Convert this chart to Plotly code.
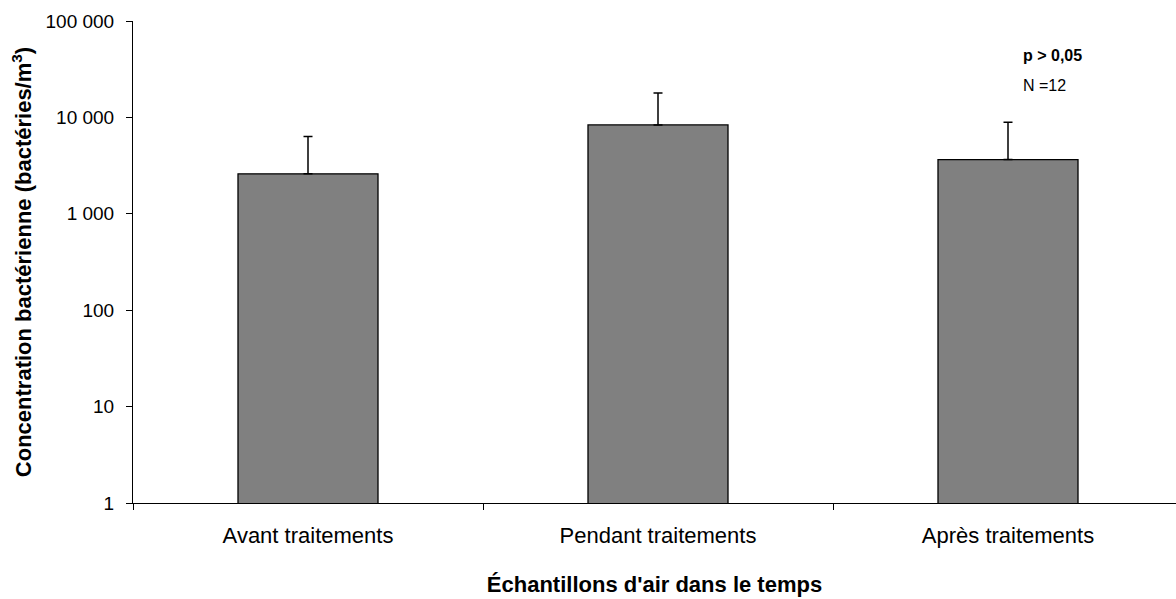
import plotly.graph_objects as go

# Air samples over time: mean bacterial concentration with upper error
categories = ["Avant traitements", "Pendant traitements", "Après traitements"]
mean_conc = [2600, 8350, 3650]
err_plus = [3750, 9600, 5250]

y_tickvals = [1, 10, 100, 1000, 10000, 100000]
y_ticktext = ["1", "10", "100", "1 000", "10 000", "100 000"]

FONT = "Liberation Sans, Arial, sans-serif"
x_pos = list(range(len(categories)))

fig = go.Figure()
fig.add_trace(go.Bar(
    x=x_pos,
    y=mean_conc,
    width=0.4,
    marker=dict(color="#808080", line=dict(color="#000000", width=1.3)),
    error_y=dict(type="data", array=err_plus, arrayminus=[0] * len(err_plus),
                 symmetric=False, color="#000000", thickness=1.5, width=4.5),
    showlegend=False,
))

fig.add_annotation(x=2.036, y=4.64, xref="x", yref="y", text="<b>p > 0,05</b>",
                   showarrow=False, xanchor="left", yanchor="middle",
                   font=dict(family=FONT, size=16, color="#000000"))
fig.add_annotation(x=2.036, y=4.33, xref="x", yref="y", text="N =12",
                   showarrow=False, xanchor="left", yanchor="middle",
                   font=dict(family=FONT, size=16, color="#000000"))

fig.update_layout(
    width=1176, height=599,
    margin=dict(l=133, r=0, t=21, b=96, pad=0),
    plot_bgcolor="#ffffff", paper_bgcolor="#ffffff",
    font=dict(family=FONT, color="#000000"),
    xaxis=dict(
        range=[-0.5, -0.5 + 1043 / 350],
        tickmode="array", tickvals=x_pos, ticktext=categories,
        ticks="", ticklabelstandoff=13,
        tickfont=dict(family=FONT, size=22, color="#000000"),
        showline=True, linecolor="#000000", linewidth=1,
        showgrid=False, zeroline=False,
        minor=dict(tick0=-0.5, dtick=1, ticks="outside", ticklen=6,
                   tickcolor="#000000", tickwidth=1, showgrid=False),
        title=dict(text="<b>Échantillons d'air dans le temps</b>", standoff=29,
                   font=dict(family=FONT, size=22, color="#000000")),
    ),
    yaxis=dict(
        type="log", range=[0, 5],
        tickmode="array", tickvals=y_tickvals, ticktext=y_ticktext,
        ticks="outside", ticklen=6, tickcolor="#000000", tickwidth=1,
        ticklabelstandoff=8,
        tickfont=dict(family=FONT, size=19, color="#000000"),
        showline=True, linecolor="#000000", linewidth=1,
        showgrid=False, zeroline=False,
        title=dict(text="<b>Concentration bactérienne (bactéries/m<sup>3</sup>)</b>",
                   standoff=7, font=dict(family=FONT, size=22, color="#000000")),
    ),
)

fig.write_html("out.html")
